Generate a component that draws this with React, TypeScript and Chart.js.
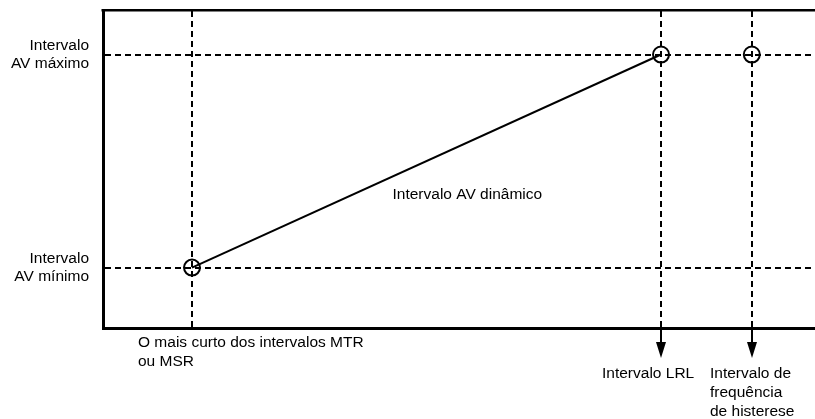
import React, { useEffect, useRef } from "react";
import { Chart, registerables } from "chart.js";

Chart.register(...registerables);

// ---- data ----
const xMarkers = [1, 6.27, 7.29]; // MTR/MSR, LRL, hysteresis
const xLabels = [
  ["O mais curto dos intervalos MTR", "ou MSR"],
  ["Intervalo LRL"],
  ["Intervalo de", "frequência", "de histerese"],
];
const arrowAt = [false, true, true];
const yTickValues = [19, 86];
const yTickLabels = [
  ["Intervalo", "AV mínimo"],
  ["Intervalo", "AV máximo"],
];
const dynamicLine = [
  { x: 1, y: 19 },
  { x: 6.27, y: 86 },
];
const hysteresisPoint = [{ x: 7.29, y: 86 }];
const lineLabel = "Intervalo AV dinâmico";

const FONT = "'Liberation Sans', Arial, Helvetica, sans-serif";
const FONT_SIZE = 15.5;

const diagramPlugin = {
  id: "diagram",
  beforeDatasetsDraw(chart: any) {
    const { ctx, chartArea, scales } = chart;
    const xs = scales.x;
    const ys = scales.y;
    ctx.save();
    // top border
    ctx.fillStyle = "#000";
    ctx.fillRect(chartArea.left - 1.5, chartArea.top - 1, chartArea.right - chartArea.left + 1.5, 2.5);
    // dashed guides
    ctx.strokeStyle = "#000";
    ctx.lineWidth = 2;
    ctx.setLineDash([6, 4]);
    xMarkers.forEach((v) => {
      const px = Math.round(xs.getPixelForValue(v));
      ctx.beginPath();
      ctx.moveTo(px, chartArea.top + 1);
      ctx.lineTo(px, chartArea.bottom - 1);
      ctx.stroke();
    });
    yTickValues.forEach((v) => {
      const py = Math.round(ys.getPixelForValue(v));
      ctx.beginPath();
      ctx.moveTo(chartArea.left + 2, py);
      ctx.lineTo(chartArea.right, py);
      ctx.stroke();
    });
    ctx.restore();
  },
  afterDatasetsDraw(chart: any) {
    const { ctx, chartArea, scales } = chart;
    const xs = scales.x;
    const ys = scales.y;
    ctx.save();
    ctx.fillStyle = "#000";
    ctx.strokeStyle = "#000";
    ctx.font = `${FONT_SIZE}px ${FONT}`;
    ctx.textBaseline = "alphabetic";
    ctx.textAlign = "left";
    // line label
    const mx = (xs.getPixelForValue(dynamicLine[0].x) + xs.getPixelForValue(dynamicLine[1].x)) / 2;
    const my = (ys.getPixelForValue(dynamicLine[0].y) + ys.getPixelForValue(dynamicLine[1].y)) / 2;
    ctx.fillText(lineLabel, mx - 34, my + 37.5);
    // arrows and bottom labels
    const offsets = [-54, -59, -42];
    xMarkers.forEach((v, i) => {
      const px = Math.round(xs.getPixelForValue(v));
      const base = chartArea.bottom + 2;
      if (arrowAt[i]) {
        ctx.lineWidth = 2;
        ctx.setLineDash([]);
        ctx.beginPath();
        ctx.moveTo(px, base);
        ctx.lineTo(px, base + 14);
        ctx.stroke();
        ctx.beginPath();
        ctx.moveTo(px - 5, base + 12);
        ctx.lineTo(px + 5, base + 12);
        ctx.lineTo(px, base + 28);
        ctx.closePath();
        ctx.fill();
      }
      const lines = xLabels[i];
      const firstBase = arrowAt[i] ? chartArea.bottom + 50.3 : chartArea.bottom + 19.3;
      lines.forEach((t, j) => {
        ctx.fillText(t, px + offsets[i], firstBase + j * 18.6);
      });
    });
    ctx.restore();
  },
};

export default function App() {
  const ref = useRef<HTMLCanvasElement>(null);
  useEffect(() => {
    if (!ref.current) return;
    const chart = new Chart(ref.current, {
      type: "scatter",
      data: {
        datasets: [
          {
            data: dynamicLine,
            showLine: true,
            borderColor: "#000",
            borderWidth: 2,
            pointRadius: 8,
            pointBorderWidth: 2,
            pointBackgroundColor: "rgba(0,0,0,0)",
            pointBorderColor: "#000",
            pointStyle: "circle",
            clip: false,
          },
          {
            data: hysteresisPoint,
            showLine: false,
            pointRadius: 8,
            pointBorderWidth: 2,
            pointBackgroundColor: "rgba(0,0,0,0)",
            pointBorderColor: "#000",
            clip: false,
          },
        ],
      },
      options: {
        responsive: false,
        animation: false,
        devicePixelRatio: 1,
        layout: { autoPadding: false, padding: { top: 10, right: 0, left: 0, bottom: 0 } },
        plugins: { legend: { display: false }, tooltip: { enabled: false } },
        scales: {
          x: {
            type: "linear",
            min: 0,
            max: 8,
            grid: { display: false, drawTicks: false },
            border: { display: true, color: "#000", width: 3 },
            ticks: { display: false },
            afterFit: (s: any) => {
              s.height = 91;
              s.paddingLeft = 0;
              s.paddingRight = 0;
            },
          },
          y: {
            type: "linear",
            min: 0,
            max: 100,
            grid: { display: false, drawTicks: false },
            border: { display: true, color: "#000", width: 3 },
            afterBuildTicks: (s: any) => {
              s.ticks = yTickValues.map((v) => ({ value: v }));
            },
            afterFit: (s: any) => {
              s.width = 103;
              s.paddingTop = 0;
              s.paddingBottom = 0;
            },
            ticks: {
              padding: 14,
              color: "#000",
              font: { family: FONT, size: FONT_SIZE, lineHeight: 1.2 },
              callback: (value: any) => {
                const i = yTickValues.indexOf(Number(value));
                return i >= 0 ? yTickLabels[i] : "";
              },
            },
          },
        },
      },
      plugins: [diagramPlugin],
    });
    return () => chart.destroy();
  }, []);
  return (
    <div style={{ position: "absolute", left: 0, top: 0, width: 815, height: 419, background: "#fff" }}>
      <canvas ref={ref} width={815} height={419} style={{ width: 815, height: 419, display: "block" }} />
    </div>
  );
}
